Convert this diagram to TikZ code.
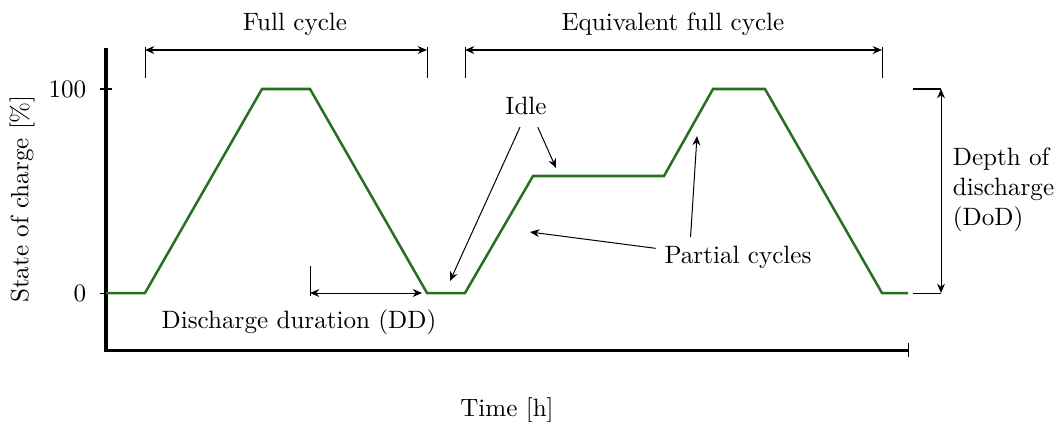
\documentclass[tikz,border=0pt]{standalone}
\usepackage{tikz}
\usetikzlibrary{arrows.meta,positioning}
\definecolor{socgreen}{RGB}{38,112,31}

\begin{document}
\begin{tikzpicture}[
  x=0.014cm, y=-0.014cm,
  axis/.style={line width=1.2pt},
  soc/.style={socgreen, line width=1pt, line join=miter},
  dim/.style={<->, thin},
  ext/.style={thin},
  note/.style={->, thin},
  lbl/.style={inner sep=3.33pt},
  >={Stealth[length=1.3mm, width=1.1mm]}
]
\useasboundingbox (0,0) rectangle (1059,421);

% axes
\coordinate (o)  at (106,350);
\coordinate (yt) at (106,48);
\coordinate (xt) at (908,350);
\draw[axis] (yt) -- (o) -- (xt);
\draw[thin] (908,343) -- (908,357);
\draw[thin] (100,89) -- (112,89);
\draw[thin] (100,293) -- (112,293);
\node[lbl, anchor=east] (y100) at (95,89)  {100};
\node[lbl, anchor=east] (y0)   at (95,293) {0};
\node[lbl, rotate=90] (ylab) at (22,199) {State of charge [\%]};
\node[lbl] (xlab) at (507,410) {Time [h]};

% state of charge profile
\draw[soc] (106,293) -- (145,293) -- (262,89) -- (310,89) -- (427,293)
  -- (465,293) -- (533,176) -- (664,176) -- (713,89) -- (765,89)
  -- (882,293) -- (908,293);

% full cycle
\coordinate (fc1) at (145,50);
\coordinate (fc2) at (427,50);
\draw[ext] (145,47) -- (145,78);
\draw[ext] (427,47) -- (427,78);
\draw[dim] (fc1) -- (fc2);
\node[lbl] (fc) at (295,24) {Full cycle};

% equivalent full cycle
\coordinate (efc1) at (465,50);
\coordinate (efc2) at (882,50);
\draw[ext] (465,47) -- (465,78);
\draw[ext] (882,47) -- (882,78);
\draw[dim] (efc1) -- (efc2);
\node[lbl] (efc) at (673,24) {Equivalent full cycle};

% depth of discharge
\coordinate (dod1) at (941,89);
\coordinate (dod2) at (941,293);
\draw[ext] (913,89) -- (dod1);
\draw[ext] (913,293) -- (dod2);
\draw[dim] (dod1) -- (dod2);
\node[lbl, anchor=west, align=left] (dod) at (944,190) {Depth of\\discharge\\(DoD)};

% discharge duration
\coordinate (dd1) at (310,293);
\coordinate (dd2) at (422,293);
\draw[ext] (310,266) -- (310,296);
\draw[dim] (dd1) -- (dd2);
\node[lbl] (dd) at (299,322) {Discharge duration (DD)};

% idle
\node[lbl] (idle) at (526,106) {Idle};
\coordinate (idle1) at (450,281);
\coordinate (idle2) at (556,168);
\draw[note, shorten <=1.5pt] (idle.256) -- (idle1);
\draw[note, shorten <=1.5pt] (idle.300) -- (idle2);

% partial cycles
\node[lbl] (pc) at (738,257) {Partial cycles};
\coordinate (pc1) at (530,232);
\coordinate (pc2) at (697,136);
\draw[note] (pc.174) -- (pc1);
\draw[note] (pc.157) -- (pc2);
\end{tikzpicture}
\end{document}
